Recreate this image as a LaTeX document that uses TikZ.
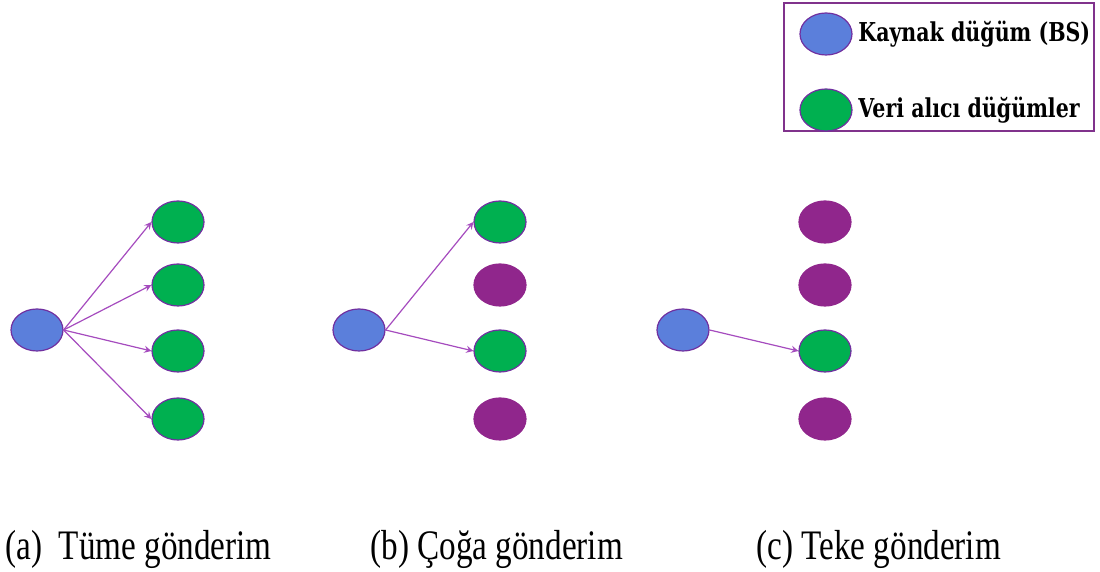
\documentclass[tikz,border=0pt]{standalone}
\usepackage{fontspec}
\setmainfont{Liberation Serif}
\newfontfamily\legendfont{DejaVu Serif}
\usetikzlibrary{shapes, arrows, positioning, shapes.geometric, calc}
\definecolor{srcblue}{RGB}{91,127,219}
\definecolor{rxgreen}{RGB}{0,176,80}
\definecolor{idlepurple}{RGB}{144,38,140}
\definecolor{rimpurple}{RGB}{112,48,160}
\definecolor{linkpurple}{RGB}{165,75,190}
\definecolor{framepurple}{RGB}{128,50,140}
\begin{document}
\begin{tikzpicture}[x=0.5pt, y=-0.5pt]
    \tikzstyle{dot} = [draw=rimpurple, line width=0.6pt, ellipse, inner sep=0pt, minimum width=26pt, minimum height=21pt]
    \tikzstyle{src} = [dot, fill=srcblue]
    \tikzstyle{rx} = [dot, fill=rxgreen]
    \tikzstyle{idle} = [dot, draw=idlepurple, fill=idlepurple]
    \tikzstyle{link} = [-stealth, draw=linkpurple, line width=0.6pt]
    \tikzstyle{caption} = [anchor=base west, inner sep=0pt, font=\fontsize{21}{24}\selectfont]
    \tikzstyle{legendtext} = [anchor=west, inner sep=0pt, font=\legendfont\bfseries\fontsize{13}{15}\selectfont]
    \useasboundingbox (0,0) rectangle (1100,572);

    % legend
    \node[draw=framepurple, line width=0.6pt, minimum width=155pt, minimum height=64pt, inner sep=0pt] (legend) at (939,67) {};
    \node[src] (keysrc) at (826,34) {};
    \node[rx] (keyrx) at (826,110) {};
    \node[legendtext] (keysrctext) at (858,34) {\scalebox{0.79}[1]{Kaynak düğüm (BS)}};
    \node[legendtext] (keyrxtext) at (858,110) {\scalebox{0.79}[1]{Veri alıcı düğümler}};

    % (a) broadcast
    \node[src] (srcA) at (37,330) {};
    \node[rx] (a1) at (178,222) {};
    \node[rx] (a2) at (178,285) {};
    \node[rx] (a3) at (178,351) {};
    \node[rx] (a4) at (178,419) {};
    \draw[link] (srcA.east) -- (a1.west);
    \draw[link] (srcA.east) -- (a2.west);
    \draw[link] (srcA.east) -- (a3.west);
    \draw[link] (srcA.east) -- (a4.west);

    % (b) multicast
    \node[src] (srcB) at (359,330) {};
    \node[rx] (b1) at (500,222) {};
    \node[idle] (b2) at (500,285) {};
    \node[rx] (b3) at (500,351) {};
    \node[idle] (b4) at (500,419) {};
    \draw[link] (srcB.east) -- (b1.west);
    \draw[link] (srcB.east) -- (b3.west);

    % (c) unicast
    \node[src] (srcC) at (683,330) {};
    \node[idle] (c1) at (825,222) {};
    \node[idle] (c2) at (825,285) {};
    \node[rx] (c3) at (825,351) {};
    \node[idle] (c4) at (825,419) {};
    \draw[link] (srcC.east) -- (c3.west);

    % captions
    \node[caption] (capA) at (5,560) {\scalebox{0.79}[1]{(a)\hspace{0.5em}Tüme gönderim}};
    \node[caption] (capB) at (370,560) {\scalebox{0.79}[1]{(b) Çoğa gönderim}};
    \node[caption] (capC) at (756,560) {\scalebox{0.79}[1]{(c) Teke gönderim}};
\end{tikzpicture}
\end{document}
